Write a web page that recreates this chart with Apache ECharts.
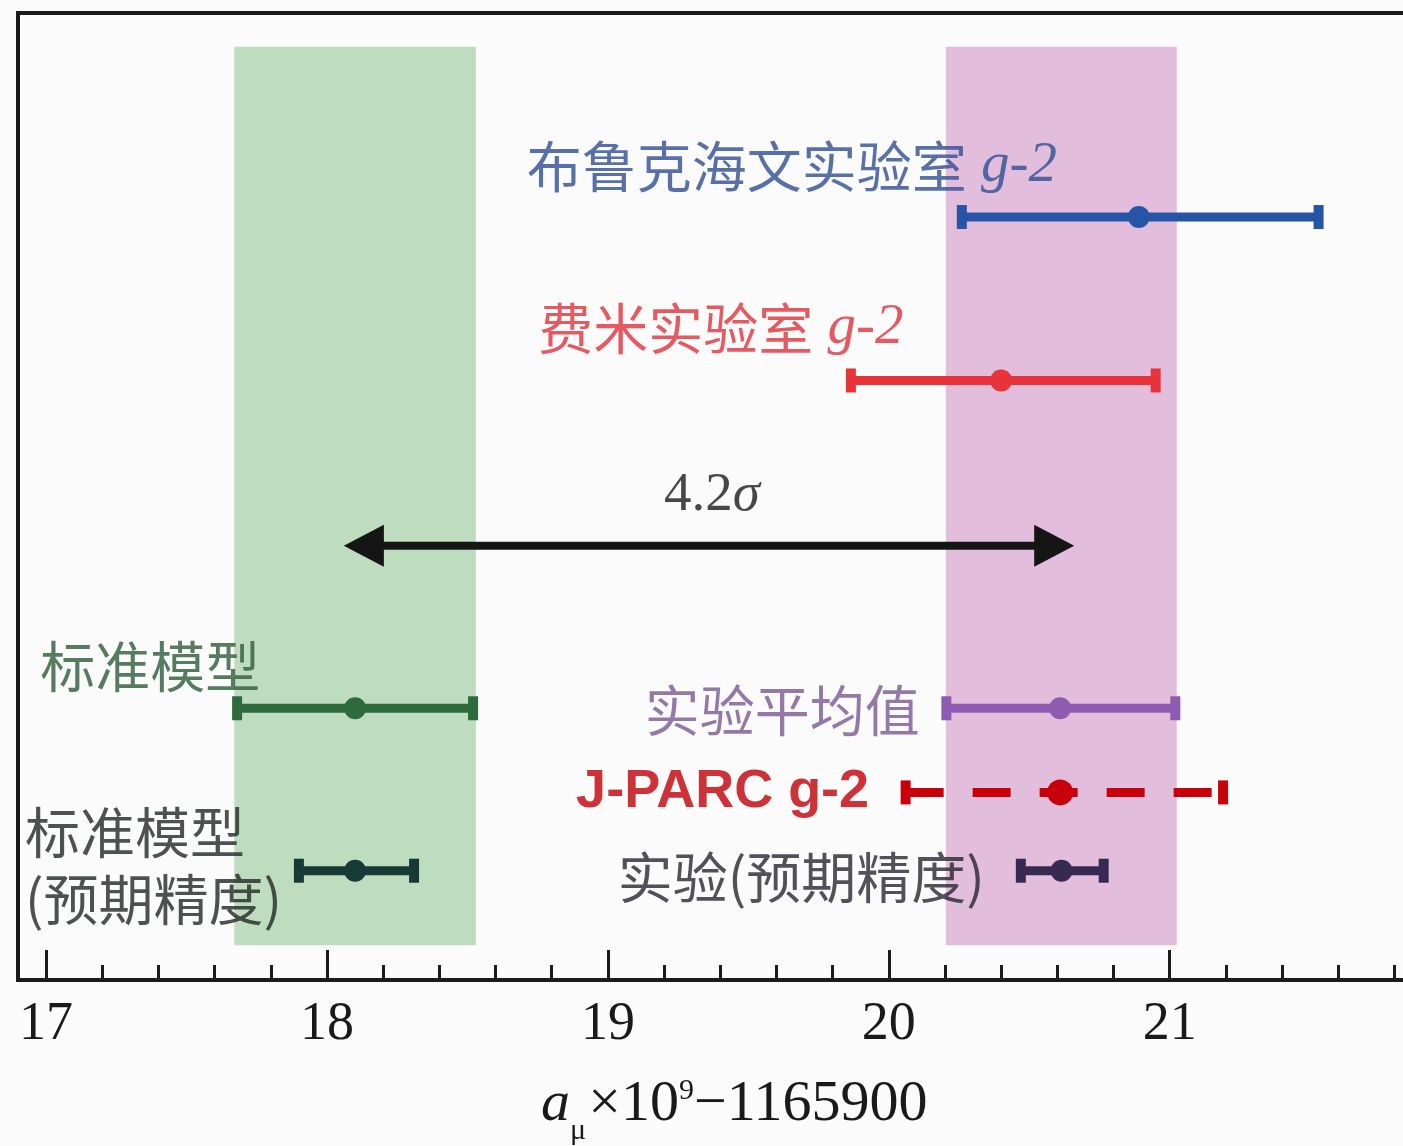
<!DOCTYPE html>
<html>
<head>
<meta charset="utf-8">
<script src="https://cdn.jsdelivr.net/npm/echarts@6/dist/echarts.min.js"></script>
<style>
html,body{margin:0;padding:0;background:#fbfbfb;}
#chart{width:1403px;height:1146px;}
</style>
</head>
<body>
<div id="chart"></div>
<script>
// ---------- data ----------
const rowNames  = ['布鲁克海文实验室 g-2', '费米实验室 g-2', '标准模型', '实验平均值', 'J-PARC g-2', '标准模型(预期精度)', '实验(预期精度)'];
const rowCenter = [20.89, 20.40, 18.10, 20.61, 20.61, 18.10, 20.615];
const rowLower  = [20.26, 19.865, 17.68, 20.205, 20.06, 17.90, 20.47];
const rowUpper  = [21.53, 20.95, 18.52, 21.02, 21.19, 18.31, 20.765];
const rowPos    = [78.9, 62.0, 28.1, 28.1, 19.4, 11.3, 11.3];   // vertical row position (0-100 scale)

const bandNames = ['标准模型', '实验平均值'];
const bandLower = [17.67, 20.203];
const bandUpper = [18.53, 21.025];
const bandBottom = [3.6, 3.6];
const bandTop    = [96.5, 96.5];

const arrowFrom = 18.06;
const arrowTo   = 20.66;
const arrowRow  = 44.9;

const xTickMajor  = [17, 18, 19, 20, 21, 22];
const xTickLabels = [17, 18, 19, 20, 21];
const xTickMinor  = [17.2, 17.4, 17.6, 17.8, 18.2, 18.4, 18.6, 18.8, 19.2, 19.4, 19.6, 19.8,
                     20.2, 20.4, 20.6, 20.8, 21.2, 21.4, 21.6, 21.8];

// label anchors (data coordinates)
const labelAnchorX = [19.655, 19.402, 16.979, 20.11, 19.93, 16.925, 20.342];
const labelAnchorY = [84.2, 67.4, 32.5, 27.9, 19.4, 11.8, 10.6];
const sigmaAnchor  = [19.37, 50.1];

// ---------- styles ----------
const rowColor  = ['#2654a6', '#e8333a', '#2d6a3c', '#8d5bb0', '#c8000a', '#183a36', '#372a52'];
const textColor = ['#2e4f94', '#e0313a', '#2d5d39', '#7a5893', '#c00008', '#222826', '#28262f'];
const rowDashed = [false, false, false, false, true, false, false];
const bandColor = ['rgba(190,220,190,1)', 'rgba(226,190,220,1)'];
const labelAlign = ['center', 'center', 'left', 'right', 'right', 'left', 'right'];

const CN = '"Noto Sans CJK SC", sans-serif';
const SERIF = '"Liberation Serif", "DejaVu Serif", serif';

function labelFormatter(i) {
  const t = rowNames[i];
  if (i === 0) return '{cn|布鲁克海文实验室}{it| g-2}';
  if (i === 1) return '{cn|费米实验室}{it| g-2}';
  if (i === 4) return '{b|' + t + '}';
  if (i === 5) return '{cn|标准模型}\n{cn|(预期精度)}';
  return '{cn|' + t + '}';
}

const labelData = rowNames.map((t, i) => ({
  value: [labelAnchorX[i], labelAnchorY[i]],
  label: {
    show: true,
    position: [0, 0],
    align: labelAlign[i],
    verticalAlign: 'middle',
    formatter: labelFormatter(i),
    rich: {
      cn: {fontFamily: CN, fontSize: 55, color: textColor[i], lineHeight: 67},
      it: {fontFamily: SERIF, fontStyle: 'italic', fontSize: 57, color: textColor[i], lineHeight: 67},
      b: {fontFamily: '"Liberation Sans", Arial, sans-serif', fontWeight: 'bold', fontSize: 54, color: textColor[i], lineHeight: 67}
    }
  }
}));
labelData.push({
  value: sigmaAnchor,
  label: {
    show: true, position: [0, 0], align: 'center', verticalAlign: 'middle',
    formatter: '{n|4.2}{s|σ}',
    rich: {
      n: {fontFamily: SERIF, fontSize: 55, color: '#1a1a1a'},
      s: {fontFamily: SERIF, fontStyle: 'italic', fontSize: 55, color: '#1a1a1a'}
    }
  }
});

const chart = echarts.init(document.getElementById('chart'), null, {renderer: 'canvas'});

const option = {
  backgroundColor: '#fbfbfb',
  animation: false,
  grid: {
    left: 18, top: 13, width: 1432.6, height: 967,
    containLabel: false, outerBoundsMode: 'none',
    show: true, borderColor: '#1b1b1b', borderWidth: 4, backgroundColor: 'transparent'
  },
  xAxis: [{
    type: 'value', min: 16.9, max: 22, position: 'bottom',
    axisLine: {show: true, lineStyle: {color: '#1b1b1b', width: 4}},
    axisTick: {show: true, inside: true, length: 30, customValues: xTickMajor, lineStyle: {color: '#1b1b1b', width: 3}},
    axisLabel: {show: true, customValues: xTickLabels, margin: 18,
      fontFamily: SERIF, fontSize: 54, color: '#1a1a1a'},
    splitLine: {show: false},
    name: '{a|a}{sub|μ}{m|×10}{sup|9}{m|−1165900}',
    nameLocation: 'middle',
    nameGap: 96,
    nameTextStyle: {
      rich: {
        a:   {fontFamily: SERIF, fontStyle: 'italic', fontSize: 58, color: '#1a1a1a', lineHeight: 58, verticalAlign: 'top'},
        sub: {fontFamily: SERIF, fontSize: 30, color: '#1a1a1a', lineHeight: 30, padding: [40, 2, 0, 0], verticalAlign: 'top'},
        m:   {fontFamily: SERIF, fontSize: 58, color: '#1a1a1a', lineHeight: 58, verticalAlign: 'top'},
        sup: {fontFamily: SERIF, fontSize: 30, color: '#1a1a1a', lineHeight: 34, verticalAlign: 'top'}
      }
    }
  }, {
    type: 'value', min: 16.9, max: 22, position: 'bottom', gridIndex: 0,
    axisLine: {show: false},
    axisTick: {show: true, inside: true, length: 15, customValues: xTickMinor, lineStyle: {color: '#1b1b1b', width: 3}},
    axisLabel: {show: false},
    splitLine: {show: false}
  }],
  yAxis: {
    type: 'value', min: 0, max: 100, show: false, splitLine: {show: false}
  },
  series: [
    {
      type: 'custom', name: 'bands', z: 1,
      data: bandNames.map((n, i) => [bandLower[i], bandUpper[i], bandBottom[i], bandTop[i]]),
      renderItem: function (params, api) {
        const p1 = api.coord([api.value(0), api.value(3)]);
        const p2 = api.coord([api.value(1), api.value(2)]);
        return {type: 'rect', shape: {x: p1[0], y: p1[1], width: p2[0] - p1[0], height: p2[1] - p1[1]},
          style: {fill: bandColor[params.dataIndex]}};
      }
    },
    {
      type: 'custom', name: 'errorbars', z: 3,
      data: rowNames.map((n, i) => [rowLower[i], rowUpper[i], rowCenter[i], rowPos[i]]),
      renderItem: function (params, api) {
        const i = params.dataIndex;
        const lo = api.coord([api.value(0), api.value(3)]);
        const hi = api.coord([api.value(1), api.value(3)]);
        const c = api.coord([api.value(2), api.value(3)]);
        const col = rowColor[i];
        const dashed = rowDashed[i];
        const children = [
          {type: 'line', shape: {x1: lo[0], y1: lo[1], x2: hi[0], y2: hi[1]},
            style: {stroke: col, lineWidth: 9, lineDash: dashed ? [38, 29] : null}},
          {type: 'rect', shape: {x: lo[0] - 5, y: lo[1] - 12, width: 10, height: 24}, style: {fill: col}},
          {type: 'rect', shape: {x: hi[0] - 5, y: hi[1] - 12, width: 10, height: 24}, style: {fill: col}},
          {type: 'circle', shape: {cx: c[0], cy: c[1], r: dashed ? 13 : 11}, style: {fill: col}}
        ];
        return {type: 'group', children: children};
      }
    },
    {
      type: 'custom', name: 'arrow', z: 3,
      data: [[arrowFrom, arrowTo, arrowRow]],
      renderItem: function (params, api) {
        const a = api.coord([api.value(0), api.value(2)]);
        const b = api.coord([api.value(1), api.value(2)]);
        const L = 40, H = 21;
        return {type: 'group', children: [
          {type: 'line', shape: {x1: a[0] + 20, y1: a[1], x2: b[0] - 20, y2: b[1]}, style: {stroke: '#151515', lineWidth: 8}},
          {type: 'polygon', shape: {points: [[a[0], a[1]], [a[0] + L, a[1] - H], [a[0] + L, a[1] + H]]}, style: {fill: '#151515'}},
          {type: 'polygon', shape: {points: [[b[0], b[1]], [b[0] - L, b[1] - H], [b[0] - L, b[1] + H]]}, style: {fill: '#151515'}}
        ]};
      }
    },
    {
      type: 'scatter', name: 'labels', z: 5,
      symbolSize: 0, silent: true,
      data: labelData
    }
  ]
};
chart.setOption(option);
</script>
</body>
</html>
